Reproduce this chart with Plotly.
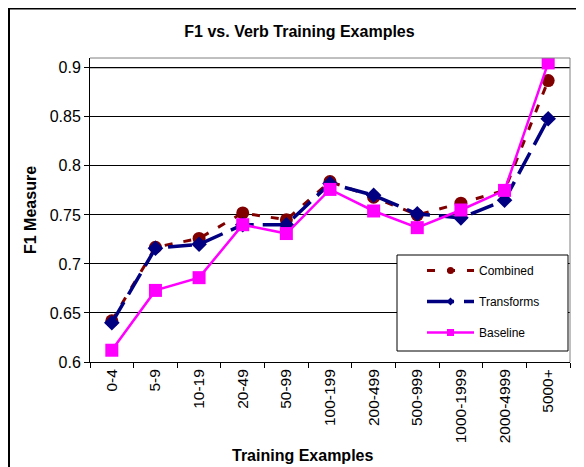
import plotly.graph_objects as go

categories = ["0-4", "5-9", "10-19", "20-49", "50-99", "100-199", "200-499",
              "500-999", "1000-1999", "2000-4999", "5000+"]
combined = [0.642, 0.717, 0.726, 0.752, 0.745, 0.784, 0.768, 0.750, 0.762, 0.775, 0.887]
transforms = [0.640, 0.716, 0.720, 0.740, 0.740, 0.782, 0.770, 0.751, 0.747, 0.765, 0.848]
baseline = [0.612, 0.673, 0.686, 0.740, 0.731, 0.776, 0.754, 0.737, 0.755, 0.775, 0.905]
y_ticks = [0.6, 0.65, 0.7, 0.75, 0.8, 0.85, 0.9]
y_ticktext = ["0.6", "0.65", "0.7", "0.75", "0.8", "0.85", "0.9"]
series_names = ["Combined", "Transforms", "Baseline"]

FONT = "Arial, Liberation Sans, sans-serif"

# figure is placed at (8,8) in the page by the default body margin
L, T, PW, PH = 82, 50, 480, 304
W, H = 584, 467


def px(x):
    return (x - L) / PW


def py(y):
    return (T + PH - y) / PH


styles = [
    dict(line=dict(color="#800000", width=3, dash="8px,11px"),
         marker=dict(symbol="circle", color="#800000")),
    dict(line=dict(color="#000080", width=3.5, dash="24px,9px"),
         marker=dict(symbol="diamond", color="#000080")),
    dict(line=dict(color="#FF00FF", width=2.5),
         marker=dict(symbol="square", color="#FF00FF")),
]
data_sizes = [13, 12, 13]
legend_sizes = [7, 6, 7]
legend_dash = ["8px,12px", "27px,10px", None]

fig = go.Figure()
for name, vals, st, sz in zip(series_names, [combined, transforms, baseline], styles, data_sizes):
    fig.add_trace(go.Scatter(
        x=categories, y=vals, name=name, mode="lines+markers",
        line=st["line"], marker=dict(st["marker"], size=sz), showlegend=False))
# legend entries (smaller symbols, as in the original legend)
for i, (name, st, sz, dsh) in enumerate(zip(series_names, styles, legend_sizes, legend_dash)):
    ln = dict(st["line"])
    if dsh:
        ln["dash"] = dsh
    fig.add_trace(go.Scatter(
        x=[None], y=[None], name=name, mode="lines+markers",
        line=ln, marker=dict(st["marker"], size=sz), legendgroup=str(i)))

fig.update_layout(
    width=W, height=H,
    margin=dict(l=L, r=W - L - PW, t=T, b=H - T - PH, autoexpand=False),
    paper_bgcolor="white", plot_bgcolor="white",
    font=dict(family=FONT, color="black", size=13),
    showlegend=True,
    title=dict(text="<b>F1 vs. Verb Training Examples</b>", x=291.5 / W, xanchor="center",
               y=1 - 23 / H, yanchor="middle", font=dict(size=16, family=FONT)),
    legend=dict(x=px(414), xanchor="left", y=py(248), yanchor="top",
                bgcolor="rgba(0,0,0,0)", borderwidth=0,
                font=dict(size=12, family=FONT), tracegroupgap=12,
                traceorder="grouped", itemwidth=47),
    xaxis=dict(
        type="category", range=[-0.5, 10.5], automargin=False,
        tickangle=-90, tickson="boundaries", ticks="outside", ticklen=5,
        tickcolor="black", showline=True, linecolor="black", linewidth=1,
        showgrid=False, tickfont=dict(size=15.5, family=FONT),
    ),
    yaxis=dict(
        range=[0.6, 0.91], tickvals=y_ticks, ticktext=y_ticktext, automargin=False,
        ticks="outside", ticklen=5, tickcolor="black",
        showline=True, linecolor="black", linewidth=1,
        showgrid=True, gridcolor="black", gridwidth=1, zeroline=False,
        tickfont=dict(size=16, family=FONT),
        title=dict(text="<b>F1 Measure</b>", font=dict(size=16, family=FONT), standoff=9),
    ),
    annotations=[
        dict(text="<b>Training Examples</b>", xref="paper", yref="paper",
             x=px(294.5), y=py(447), xanchor="center", yanchor="middle",
             showarrow=False, font=dict(size=16, family=FONT)),
    ],
    shapes=[
        # gray 0.9 gridline
        dict(type="line", xref="paper", yref="y", x0=0, x1=1, y0=0.9, y1=0.9,
             line=dict(color="#808080", width=1.5), layer="below"),
        # plot area top/right border (gray)
        dict(type="line", xref="paper", yref="paper", x0=0, x1=1, y0=1, y1=1,
             line=dict(color="#808080", width=1)),
        dict(type="line", xref="paper", yref="paper", x0=1, x1=1, y0=0, y1=1,
             line=dict(color="#808080", width=1)),
        # legend box
        dict(type="rect", xref="paper", yref="paper",
             x0=px(389), x1=px(560), y0=py(343), y1=py(247),
             fillcolor="white", line=dict(color="black", width=1), layer="above"),
        # outer chart border
        dict(type="rect", xref="paper", yref="paper",
             x0=px(1), x1=1.2, y0=-0.6, y1=py(0.5),
             line=dict(color="black", width=2), layer="below"),
    ],
)

fig.write_html("out.html")
